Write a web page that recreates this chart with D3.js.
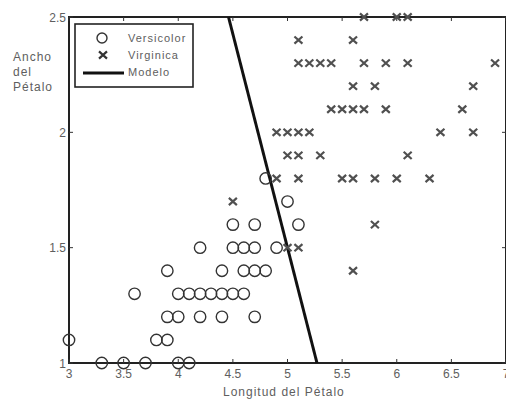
<!DOCTYPE html>
<html>
<head>
<meta charset="utf-8">
<script src="https://cdn.jsdelivr.net/npm/d3@7"></script>
<style>
  body { margin: 0; background: #fff; }
  svg { display: block; font-family: "Liberation Sans", Arial, sans-serif; }
  .lbl { fill: #5e5e5e; font-size: 12px; }
  .spaced { letter-spacing: 1px; }
</style>
</head>
<body>
<div id="chart"></div>
<script>
// petal length (x) / petal width (y) for each class
const versicolorX = [3.3, 3.5, 3.7, 4.0, 4.1,
  3.0, 3.8, 3.9,
  3.9, 4.0, 4.2, 4.4, 4.7,
  3.6, 4.0, 4.1, 4.2, 4.3, 4.4, 4.5, 4.6,
  3.9, 4.4, 4.6, 4.7, 4.8,
  4.2, 4.5, 4.6, 4.7, 4.9,
  4.5, 4.7, 5.1,
  5.0,
  4.8];
const versicolorY = [1.0, 1.0, 1.0, 1.0, 1.0,
  1.1, 1.1, 1.1,
  1.2, 1.2, 1.2, 1.2, 1.2,
  1.3, 1.3, 1.3, 1.3, 1.3, 1.3, 1.3, 1.3,
  1.4, 1.4, 1.4, 1.4, 1.4,
  1.5, 1.5, 1.5, 1.5, 1.5,
  1.6, 1.6, 1.6,
  1.7,
  1.8];

const virginicaX = [5.6,
  5.0, 5.1,
  5.8,
  4.5,
  4.9, 5.1, 5.5, 5.6, 5.8, 6.0, 6.3,
  5.0, 5.1, 5.3, 6.1,
  4.9, 5.0, 5.1, 5.2, 6.4, 6.7,
  5.4, 5.5, 5.6, 5.7, 5.9, 6.6,
  5.6, 5.8, 6.7,
  5.1, 5.2, 5.3, 5.4, 5.7, 5.9, 6.1, 6.9,
  5.1, 5.6,
  5.7, 6.0, 6.1];
const virginicaY = [1.4,
  1.5, 1.5,
  1.6,
  1.7,
  1.8, 1.8, 1.8, 1.8, 1.8, 1.8, 1.8,
  1.9, 1.9, 1.9, 1.9,
  2.0, 2.0, 2.0, 2.0, 2.0, 2.0,
  2.1, 2.1, 2.1, 2.1, 2.1, 2.1,
  2.2, 2.2, 2.2,
  2.3, 2.3, 2.3, 2.3, 2.3, 2.3, 2.3, 2.3,
  2.4, 2.4,
  2.5, 2.5, 2.5];

// decision boundary end points
const modelX = [4.46, 5.27];
const modelY = [2.5, 1.0];

const xTicks = [3, 3.5, 4, 4.5, 5, 5.5, 6, 6.5, 7];
const yTicks = [1, 1.5, 2, 2.5];
const legendLabels = ['Versicolor', 'Virginica', 'Modelo'];

const width = 506, height = 400;
const plot = { left: 69, right: 506, top: 17, bottom: 363 };

const x = d3.scaleLinear().domain([3, 7]).range([plot.left, plot.right]);
const y = d3.scaleLinear().domain([1, 2.5]).range([plot.bottom, plot.top]);

const svg = d3.select('#chart')
  .append('svg')
  .attr('width', width)
  .attr('height', height);

// frame
svg.append('rect')
  .attr('x', plot.left)
  .attr('y', plot.top)
  .attr('width', plot.right - plot.left)
  .attr('height', plot.bottom - plot.top)
  .style('fill', 'none')
  .style('stroke', '#222')
  .style('stroke-width', 2);

// inward ticks, MATLAB style
const tickLen = 4;
const ticks = svg.append('g').style('stroke', '#333').style('stroke-width', 1);
xTicks.forEach(t => {
  ticks.append('line').attr('x1', x(t)).attr('x2', x(t)).attr('y1', plot.bottom).attr('y2', plot.bottom - tickLen);
  ticks.append('line').attr('x1', x(t)).attr('x2', x(t)).attr('y1', plot.top).attr('y2', plot.top + tickLen);
});
yTicks.forEach(t => {
  ticks.append('line').attr('x1', plot.left).attr('x2', plot.left + tickLen).attr('y1', y(t)).attr('y2', y(t));
  ticks.append('line').attr('x1', plot.right).attr('x2', plot.right - tickLen).attr('y1', y(t)).attr('y2', y(t));
});

svg.append('g')
  .selectAll('text')
  .data(xTicks)
  .enter()
    .append('text')
    .classed('lbl', true)
    .attr('x', d => x(d))
    .attr('y', plot.bottom + 15)
    .attr('text-anchor', 'middle')
    .text(d => d3.format('~g')(d));

svg.append('g')
  .selectAll('text')
  .data(yTicks)
  .enter()
    .append('text')
    .classed('lbl', true)
    .attr('x', plot.left - 3)
    .attr('y', d => y(d) + 4.5)
    .attr('text-anchor', 'end')
    .text(d => d3.format('~g')(d));

// axis titles
svg.append('text')
  .classed('lbl', true)
  .classed('spaced', true)
  .attr('x', 223)
  .attr('y', 396)
  .text('Longitud del Pétalo');

svg.append('text')
  .classed('lbl', true)
  .classed('spaced', true)
  .attr('x', 13)
  .attr('y', 61)
  .selectAll('tspan')
  .data(['Ancho', 'del', 'Pétalo'])
  .enter()
    .append('tspan')
    .attr('x', 13)
    .attr('dy', (d, i) => i ? 15 : 0)
    .text(d => d);

// model line
svg.append('line')
  .attr('x1', x(modelX[0]))
  .attr('y1', y(modelY[0]))
  .attr('x2', x(modelX[1]))
  .attr('y2', y(modelY[1]))
  .style('stroke', '#111')
  .style('stroke-width', 3);

// versicolor circles
const vers = versicolorX.map((v, i) => ({ x: v, y: versicolorY[i] }));
svg.append('g')
  .selectAll('circle')
  .data(vers)
  .enter()
    .append('circle')
    .attr('cx', d => x(d.x))
    .attr('cy', d => y(d.y))
    .attr('r', 5.7)
    .style('fill', 'none')
    .style('stroke', '#333')
    .style('stroke-width', 1.4);

// virginica crosses
const virg = virginicaX.map((v, i) => ({ x: v, y: virginicaY[i] }));
const cross = 'M-4,-3.6L4,3.6M4,-3.6L-4,3.6';
svg.append('g')
  .selectAll('path')
  .data(virg)
  .enter()
    .append('path')
    .attr('d', cross)
    .attr('transform', d => `translate(${x(d.x)},${y(d.y)})`)
    .style('fill', 'none')
    .style('stroke', '#505050')
    .style('stroke-width', 2.2);

// legend
const legend = svg.append('g');
legend.append('rect')
  .attr('x', 75)
  .attr('y', 24)
  .attr('width', 118)
  .attr('height', 63)
  .style('fill', '#fff')
  .style('stroke', '#222')
  .style('stroke-width', 1.6);

legend.append('circle')
  .attr('cx', 102).attr('cy', 38).attr('r', 5)
  .style('fill', 'none').style('stroke', '#333').style('stroke-width', 1.4);
legend.append('path')
  .attr('d', cross)
  .attr('transform', 'translate(103,55)')
  .style('fill', 'none').style('stroke', '#333').style('stroke-width', 2.2);
legend.append('line')
  .attr('x1', 83).attr('x2', 124).attr('y1', 73).attr('y2', 73)
  .style('stroke', '#111').style('stroke-width', 3);

legend.selectAll('text')
  .data(legendLabels)
  .enter()
    .append('text')
    .classed('lbl', true)
    .classed('spaced', true)
    .attr('x', 128)
    .attr('y', (d, i) => 42 + i * 17)
    .style('font-size', '11px')
    .text(d => d);
</script>
</body>
</html>
